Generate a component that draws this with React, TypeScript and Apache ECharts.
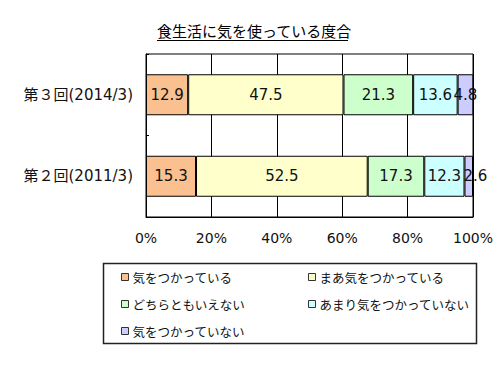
import React, { useEffect, useRef } from "react";
import * as echarts from "echarts";

const categories = ["第２回(2011/3)", "第３回(2014/3)"];
const seriesNames = [
  "気をつかっている",
  "まあ気をつかっている",
  "どちらともいえない",
  "あまり気をつかっていない",
  "気をつかっていない",
];
const seriesValues = [
  [15.3, 12.9],
  [52.5, 47.5],
  [17.3, 21.3],
  [12.3, 13.6],
  [2.6, 4.8],
];
const colors = ["#FAC090", "#FFFFCC", "#CCFFCC", "#CCFFFF", "#CCCCFF"];
const xTicks = [0, 20, 40, 60, 80, 100];

const FONT = "'DejaVu Sans', 'Noto Sans CJK JP', sans-serif";
const CJK = "'Noto Sans CJK JP', sans-serif";

export default function App() {
  const ref = useRef<HTMLDivElement>(null);
  useEffect(() => {
    const chart = echarts.init(ref.current!, null, { renderer: "svg" });
    const series = seriesNames.map((name, i) => ({
      name,
      type: "bar",
      stack: "total",
      barWidth: 41,
      itemStyle: { color: colors[i], borderColor: "#000", borderWidth: 1 },
      label: {
        show: true,
        position: "inside",
        color: "#111",
        fontSize: 15,
        fontFamily: FONT,
      },
      data: seriesValues[i].map((v, j) =>
        i === 4 && j === 0
          ? { value: v, label: { position: "insideLeft", distance: 0, offset: [-1, 0] } }
          : v
      ),
    }));
    const legendCommon = {
      orient: "vertical",
      top: 265,
      itemWidth: 7,
      itemHeight: 7,
      itemGap: 13,
      icon: "rect",
      itemStyle: { borderColor: "#333", borderWidth: 1 },
      textStyle: {
        fontSize: 12.5,
        lineHeight: 14,
        color: "#111",
        fontFamily: CJK,
        padding: [0, 0, 0, -1],
      },
    };
    chart.setOption({
      animation: false,
      textStyle: { fontFamily: FONT },
      title: {
        text: "食生活に気を使っている度合",
        left: 152,
        top: 18,
        textStyle: { fontSize: 15, fontWeight: "normal", color: "#000", fontFamily: CJK },
      },
      grid: {
        left: 146,
        right: 27,
        top: 54,
        bottom: 158,
        show: true,
        borderColor: "#000",
        borderWidth: 1,
        containLabel: false,
      },
      xAxis: {
        type: "value",
        min: xTicks[0],
        max: xTicks[xTicks.length - 1],
        interval: 20,
        axisLine: { show: true, lineStyle: { color: "#000" } },
        axisTick: { show: false },
        splitLine: { show: true, lineStyle: { color: "#000", width: 1 } },
        axisLabel: {
          formatter: "{value}%",
          color: "#111",
          fontSize: 14,
          margin: 14,
          fontFamily: FONT,
        },
      },
      yAxis: {
        type: "category",
        data: categories,
        axisLine: { show: true, lineStyle: { color: "#000" } },
        axisTick: { show: true, inside: true, length: 3, lineStyle: { color: "#000" } },
        axisLabel: { color: "#111", fontSize: 15, margin: 13, fontFamily: FONT },
      },
      legend: [
        { ...legendCommon, data: [seriesNames[0], seriesNames[2], seriesNames[4]], left: 116 },
        { ...legendCommon, data: [seriesNames[1], seriesNames[3]], left: 303 },
      ],
      graphic: [
        {
          type: "line",
          shape: { x1: 157, y1: 40.5, x2: 348, y2: 40.5 },
          style: { stroke: "#000", lineWidth: 1 },
        },
        {
          type: "rect",
          shape: { x: 103.5, y: 263.5, width: 373, height: 80 },
          style: { fill: "none", stroke: "#222", lineWidth: 1.5 },
        },
      ],
      series,
    });
    return () => chart.dispose();
  }, []);
  return (
    <div
      ref={ref}
      style={{ position: "fixed", left: 0, top: 0, width: 500, height: 375, background: "#fff" }}
    />
  );
}
